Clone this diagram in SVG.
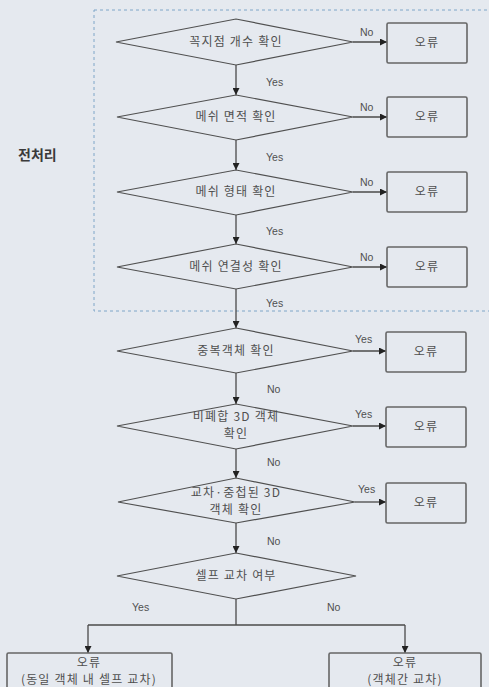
<svg xmlns="http://www.w3.org/2000/svg" width="489" height="687" viewBox="0 0 489 687">
<defs>
<style>
.bg{fill:#e5e9ef}
.sh{fill:none;stroke:#505050;stroke-width:1.2}
.bx{fill:none;stroke:#666;stroke-width:1.6}
.ln{fill:none;stroke:#4a4a4a;stroke-width:1.3}
.t{font-family:"Noto Sans CJK KR","Noto Sans",sans-serif;font-size:12px;letter-spacing:1.2px;fill:#505050;text-anchor:middle}
.l{font-family:"Liberation Sans","DejaVu Sans",sans-serif;font-size:10.5px;fill:#505050}
.h{font-family:"Noto Sans CJK KR",sans-serif;font-size:14px;font-weight:bold;fill:#3a3a3a}
</style>
<marker id="ah" viewBox="0 0 8 8" refX="8" refY="4" markerWidth="7" markerHeight="7" markerUnits="userSpaceOnUse" orient="auto"><path d="M0,0 L8,4 L0,8 z" fill="#222"/></marker>
</defs>
<rect class="bg" x="0" y="0" width="489" height="687"/>
<rect id="preprocess" x="94" y="10" width="420" height="301" fill="none" stroke="#7fa6c8" stroke-width="1" stroke-dasharray="3,3"/>
<text class="h" x="18" y="160">전처리</text>

<g id="connectors">
<line class="ln" x1="236" y1="65" x2="236" y2="95" marker-end="url(#ah)"/>
<line class="ln" x1="236" y1="140" x2="236" y2="170" marker-end="url(#ah)"/>
<line class="ln" x1="236" y1="215" x2="236" y2="244" marker-end="url(#ah)"/>
<line class="ln" x1="236" y1="289" x2="236" y2="328" marker-end="url(#ah)"/>
<line class="ln" x1="236" y1="373" x2="236" y2="404" marker-end="url(#ah)"/>
<line class="ln" x1="236" y1="449" x2="236" y2="478" marker-end="url(#ah)"/>
<line class="ln" x1="236" y1="523" x2="236" y2="553" marker-end="url(#ah)"/>
<line class="ln" x1="353" y1="42" x2="387" y2="42" marker-end="url(#ah)"/>
<line class="ln" x1="353" y1="117" x2="387" y2="117" marker-end="url(#ah)"/>
<line class="ln" x1="353" y1="192" x2="387" y2="192" marker-end="url(#ah)"/>
<line class="ln" x1="353" y1="267" x2="387" y2="267" marker-end="url(#ah)"/>
<line class="ln" x1="353" y1="351" x2="386" y2="351" marker-end="url(#ah)"/>
<line class="ln" x1="353" y1="426" x2="386" y2="426" marker-end="url(#ah)"/>
<line class="ln" x1="355" y1="502" x2="386" y2="502" marker-end="url(#ah)"/>
<path class="ln" d="M236,599 V625"/>
<path class="ln" d="M88,625 H405"/>
<line class="ln" x1="88" y1="625" x2="88" y2="653" marker-end="url(#ah)"/>
<line class="ln" x1="405" y1="625" x2="405" y2="653" marker-end="url(#ah)"/>
</g>

<g id="labels">
<text class="l" x="360" y="36">No</text>
<text class="l" x="266" y="86">Yes</text>
<text class="l" x="360" y="111">No</text>
<text class="l" x="266" y="161">Yes</text>
<text class="l" x="360" y="186">No</text>
<text class="l" x="266" y="235">Yes</text>
<text class="l" x="360" y="261">No</text>
<text class="l" x="266" y="307">Yes</text>
<text class="l" x="355" y="343">Yes</text>
<text class="l" x="267" y="393">No</text>
<text class="l" x="355" y="418">Yes</text>
<text class="l" x="267" y="466">No</text>
<text class="l" x="358" y="493">Yes</text>
<text class="l" x="267" y="545">No</text>
<text class="l" x="132" y="611">Yes</text>
<text class="l" x="327" y="611">No</text>
</g>

<g id="d1"><polygon class="sh" points="116,42 236,19 353,42 236,65"/><text class="t" x="236" y="46">꼭지점 개수 확인</text></g>
<g id="e1"><rect class="bx" x="387" y="23" width="80" height="40" rx="1.5"/><text class="t" x="427" y="47">오류</text></g>
<g id="d2"><polygon class="sh" points="117,117 236,95 353,117 236,140"/><text class="t" x="236" y="121">메쉬 면적 확인</text></g>
<g id="e2"><rect class="bx" x="387" y="97" width="80" height="40" rx="1.5"/><text class="t" x="427" y="121">오류</text></g>
<g id="d3"><polygon class="sh" points="117,192 236,170 353,192 236,215"/><text class="t" x="236" y="196">메쉬 형태 확인</text></g>
<g id="e3"><rect class="bx" x="387" y="172" width="80" height="40" rx="1.5"/><text class="t" x="427" y="196">오류</text></g>
<g id="d4"><polygon class="sh" points="117,267 236,244 353,267 236,289"/><text class="t" x="236" y="271">메쉬 연결성 확인</text></g>
<g id="e4"><rect class="bx" x="387" y="247" width="80" height="40" rx="1.5"/><text class="t" x="427" y="271">오류</text></g>
<g id="d5"><polygon class="sh" points="117,351 236,328 353,351 236,373"/><text class="t" x="236" y="355">중복객체 확인</text></g>
<g id="e5"><rect class="bx" x="386" y="332" width="80" height="40" rx="1.5"/><text class="t" x="426" y="356">오류</text></g>
<g id="d6"><polygon class="sh" points="117,426 236,404 353,426 236,449"/><text class="t" x="236" y="421">비폐합 3D 객체</text><text class="t" x="236" y="438">확인</text></g>
<g id="e6"><rect class="bx" x="386" y="407" width="80" height="40" rx="1.5"/><text class="t" x="426" y="431">오류</text></g>
<g id="d7"><polygon class="sh" points="118,502 236,478 355,502 236,523"/><text class="t" x="236" y="497">교차·중첩된 3D</text><text class="t" x="236" y="514">객체 확인</text></g>
<g id="e7"><rect class="bx" x="386" y="483" width="80" height="40" rx="1.5"/><text class="t" x="426" y="507">오류</text></g>
<g id="d8"><polygon class="sh" points="117,576 236,553 356,576 236,599"/><text class="t" x="236" y="580">셀프 교차 여부</text></g>
<g id="e8"><rect class="bx" x="7" y="653" width="165" height="40" rx="1.5"/><text class="t" x="89" y="667">오류</text><text class="t" x="89" y="684">(동일 객체 내 셀프 교차)</text></g>
<g id="e9"><rect class="bx" x="329" y="653" width="152" height="40" rx="1.5"/><text class="t" x="405" y="667">오류</text><text class="t" x="405" y="684">(객체간 교차)</text></g>
</svg>
